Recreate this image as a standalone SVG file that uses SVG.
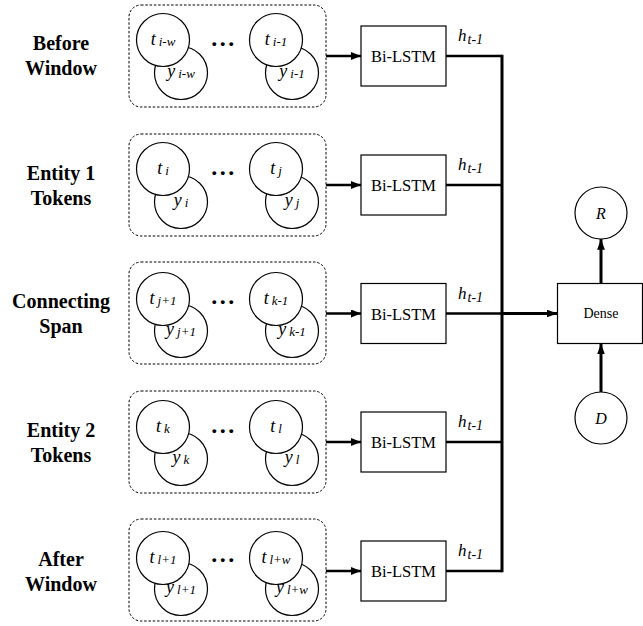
<svg xmlns="http://www.w3.org/2000/svg" width="643" height="626" viewBox="0 0 643 626">
<defs>
<marker id="arr" viewBox="0 0 10 10" refX="10" refY="5" markerWidth="4" markerHeight="3.2" markerUnits="strokeWidth" orient="auto" preserveAspectRatio="none">
<path d="M0,0 L10,5 L0,10 Z" fill="#000"/>
</marker>
<marker id="arr2" viewBox="0 0 10 10" refX="10" refY="5" markerWidth="3.6" markerHeight="2.6" markerUnits="strokeWidth" orient="auto" preserveAspectRatio="none">
<path d="M0,0 L10,5 L0,10 Z" fill="#000"/>
</marker>
</defs>
<style>
text{font-family:"Liberation Serif","Times New Roman",serif;fill:#000}
.lbl{font-size:20px;font-weight:bold;text-anchor:middle}
.grp{fill:none;stroke:#000;stroke-width:1;stroke-dasharray:2.5,1.8}
.c{fill:#fff;stroke:#000;stroke-width:1.2}
.ct{font-size:18px;font-style:italic;text-anchor:middle}
.sub{font-size:13px;font-style:italic}
.hs{font-size:14px;font-style:italic}
.dots{font-size:24px;font-weight:bold;text-anchor:middle;letter-spacing:2.5px}
.box{fill:#fff;stroke:#000;stroke-width:1.2}
.bt{font-size:16.5px;text-anchor:middle}
.dt{font-size:14px;text-anchor:middle}
.ln{fill:none;stroke:#000;stroke-width:2.5}
.lnb{fill:none;stroke:#000;stroke-width:3}
.h{font-size:17px;font-style:italic}
</style>

<g id="row1">
<text class="lbl" x="61" y="50">Before</text>
<text class="lbl" x="61" y="75">Window</text>
<rect class="grp" x="129" y="5" width="197" height="102" rx="12"/>
<circle class="c" cx="181" cy="73" r="26.5"/>
<circle class="c" cx="163" cy="40" r="26.5"/>
<text class="ct" x="163" y="45">t<tspan class="sub" dx="3" dy="1">i-w</tspan></text>
<text class="ct" x="181" y="77">y<tspan class="sub" dx="3" dy="1">i-w</tspan></text>
<text class="dots" x="224" y="46">...</text>
<circle class="c" cx="292" cy="73" r="26.5"/>
<circle class="c" cx="276" cy="40" r="26.5"/>
<text class="ct" x="276" y="45">t<tspan class="sub" dx="3" dy="1">i-1</tspan></text>
<text class="ct" x="292" y="77">y<tspan class="sub" dx="3" dy="1">i-1</tspan></text>
</g>
<g id="lstm1">
<rect class="box" x="361" y="26" width="85" height="60"/>
<text class="bt" x="403.5" y="62">Bi-LSTM</text>
</g>

<g id="row2">
<text class="lbl" x="61" y="180">Entity 1</text>
<text class="lbl" x="61" y="205">Tokens</text>
<rect class="grp" x="129" y="134" width="197" height="102" rx="12"/>
<circle class="c" cx="181" cy="202" r="26.5"/>
<circle class="c" cx="163" cy="169" r="26.5"/>
<text class="ct" x="163" y="174">t<tspan class="sub" dx="3" dy="1">i</tspan></text>
<text class="ct" x="181" y="206">y<tspan class="sub" dx="3" dy="1">i</tspan></text>
<text class="dots" x="224" y="175">...</text>
<circle class="c" cx="292" cy="202" r="26.5"/>
<circle class="c" cx="276" cy="169" r="26.5"/>
<text class="ct" x="276" y="174">t<tspan class="sub" dx="3" dy="1">j</tspan></text>
<text class="ct" x="292" y="206">y<tspan class="sub" dx="3" dy="1">j</tspan></text>
</g>
<g id="lstm2">
<rect class="box" x="361" y="155" width="85" height="60"/>
<text class="bt" x="403.5" y="191">Bi-LSTM</text>
</g>

<g id="row3">
<text class="lbl" x="61" y="308">Connecting</text>
<text class="lbl" x="61" y="333">Span</text>
<rect class="grp" x="129" y="262" width="197" height="102" rx="12"/>
<circle class="c" cx="181" cy="331" r="26.5"/>
<circle class="c" cx="163" cy="299" r="26.5"/>
<text class="ct" x="163" y="304">t<tspan class="sub" dx="3" dy="1">j+1</tspan></text>
<text class="ct" x="181" y="335">y<tspan class="sub" dx="3" dy="1">j+1</tspan></text>
<text class="dots" x="224" y="304">...</text>
<circle class="c" cx="292" cy="331" r="26.5"/>
<circle class="c" cx="276" cy="299" r="26.5"/>
<text class="ct" x="276" y="304">t<tspan class="sub" dx="3" dy="1">k-1</tspan></text>
<text class="ct" x="292" y="335">y<tspan class="sub" dx="3" dy="1">k-1</tspan></text>
</g>
<g id="lstm3">
<rect class="box" x="361" y="283.5" width="85" height="60"/>
<text class="bt" x="403.5" y="319.5">Bi-LSTM</text>
</g>

<g id="row4">
<text class="lbl" x="61" y="437">Entity 2</text>
<text class="lbl" x="61" y="462">Tokens</text>
<rect class="grp" x="129" y="391" width="197" height="102" rx="12"/>
<circle class="c" cx="181" cy="459" r="26.5"/>
<circle class="c" cx="163" cy="427" r="26.5"/>
<text class="ct" x="163" y="432">t<tspan class="sub" dx="3" dy="1">k</tspan></text>
<text class="ct" x="181" y="463">y<tspan class="sub" dx="3" dy="1">k</tspan></text>
<text class="dots" x="224" y="433">...</text>
<circle class="c" cx="292" cy="459" r="26.5"/>
<circle class="c" cx="276" cy="427" r="26.5"/>
<text class="ct" x="276" y="432">t<tspan class="sub" dx="3" dy="1">l</tspan></text>
<text class="ct" x="292" y="463">y<tspan class="sub" dx="3" dy="1">l</tspan></text>
</g>
<g id="lstm4">
<rect class="box" x="361" y="412" width="85" height="60"/>
<text class="bt" x="403.5" y="448">Bi-LSTM</text>
</g>

<g id="row5">
<text class="lbl" x="61" y="566">After</text>
<text class="lbl" x="61" y="591">Window</text>
<rect class="grp" x="129" y="519" width="197" height="102" rx="12"/>
<circle class="c" cx="181" cy="589" r="26.5"/>
<circle class="c" cx="163" cy="558" r="26.5"/>
<text class="ct" x="163" y="563">t<tspan class="sub" dx="3" dy="1">l+1</tspan></text>
<text class="ct" x="181" y="593">y<tspan class="sub" dx="3" dy="1">l+1</tspan></text>
<text class="dots" x="224" y="562">...</text>
<circle class="c" cx="292" cy="589" r="26.5"/>
<circle class="c" cx="276" cy="558" r="26.5"/>
<text class="ct" x="276" y="563">t<tspan class="sub" dx="3" dy="1">l+w</tspan></text>
<text class="ct" x="292" y="593">y<tspan class="sub" dx="3" dy="1">l+w</tspan></text>
</g>
<g id="lstm5">
<rect class="box" x="361" y="541" width="85" height="60"/>
<text class="bt" x="403.5" y="577">Bi-LSTM</text>
</g>

<g id="dense">
<rect class="box" x="557.5" y="283.5" width="85" height="60"/>
<text class="dt" x="601" y="318">Dense</text>
</g>
<g id="R">
<circle class="c" cx="601" cy="213" r="26"/>
<text class="ct" x="601" y="219" style="font-size:16px">R</text>
</g>
<g id="D">
<circle class="c" cx="601" cy="418" r="26"/>
<text class="ct" x="601" y="424" style="font-size:16px">D</text>
</g>

<g id="connectors">
<line class="ln" x1="326" y1="56" x2="361" y2="56" marker-end="url(#arr)"/>
<line class="ln" x1="326" y1="185" x2="361" y2="185" marker-end="url(#arr)"/>
<line class="ln" x1="326" y1="313.5" x2="361" y2="313.5" marker-end="url(#arr)"/>
<line class="ln" x1="326" y1="442" x2="361" y2="442" marker-end="url(#arr)"/>
<line class="ln" x1="326" y1="571" x2="361" y2="571" marker-end="url(#arr)"/>
<polyline class="ln" points="446,56 502,56"/>
<polyline class="ln" points="446,185 502,185"/>
<polyline class="ln" points="446,313.5 502,313.5"/>
<polyline class="ln" points="446,442 502,442"/>
<polyline class="ln" points="446,571 502,571"/>
<line class="lnb" x1="502" y1="54.75" x2="502" y2="572.25"/>
<line class="lnb" x1="502" y1="313.5" x2="557.5" y2="313.5" marker-end="url(#arr2)"/>
<line class="lnb" x1="601" y1="283.5" x2="601" y2="239" marker-end="url(#arr2)"/>
<line class="lnb" x1="601" y1="392" x2="601" y2="343.5" marker-end="url(#arr2)"/>
<text class="h" x="458" y="41">h<tspan class="hs" dx="1" dy="3">t-1</tspan></text>
<text class="h" x="458" y="170">h<tspan class="hs" dx="1" dy="3">t-1</tspan></text>
<text class="h" x="458" y="298.5">h<tspan class="hs" dx="1" dy="3">t-1</tspan></text>
<text class="h" x="458" y="427">h<tspan class="hs" dx="1" dy="3">t-1</tspan></text>
<text class="h" x="458" y="556">h<tspan class="hs" dx="1" dy="3">t-1</tspan></text>
</g>
</svg>
